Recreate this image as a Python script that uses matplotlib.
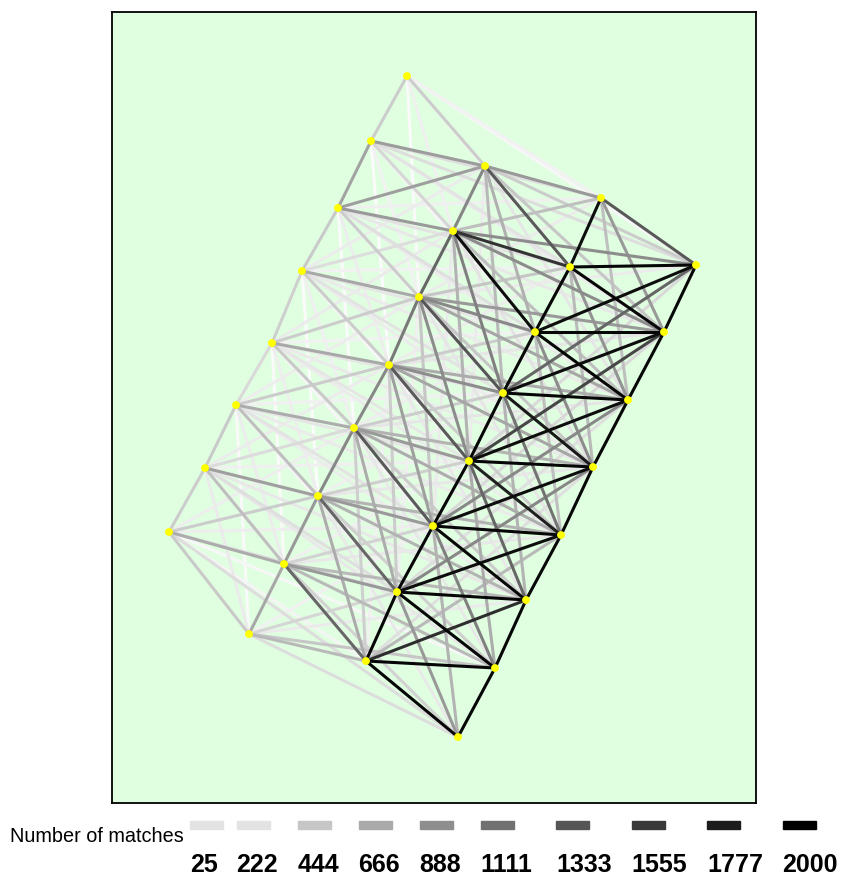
import matplotlib
matplotlib.use("Agg")
import matplotlib.pyplot as plt
from matplotlib.collections import LineCollection
from matplotlib.patches import Rectangle
from matplotlib.transforms import Affine2D

# camera stations of the four flight strips, listed top to bottom
# (map units, x to the right, y downwards)
STRIP_A_X = [407, 371, 338, 302, 272, 236, 205, 169]
STRIP_A_Y = [76, 141, 208, 271, 343, 405, 468, 532]
STRIP_B_X = [485, 453, 419, 389, 354, 318, 284, 249]
STRIP_B_Y = [166, 231, 297, 365, 428, 496, 564, 634]
STRIP_C_X = [601, 570, 535, 503, 469, 433, 397, 366]
STRIP_C_Y = [198, 267, 332, 393, 461, 526, 592, 661]
STRIP_D_X = [696, 664, 628, 593, 561, 526, 495, 458]
STRIP_D_Y = [265, 332, 400, 467, 535, 600, 668, 737]

# number of tie-point matches between image pairs
WITHIN_A = [("a0", "a1", 400), ("a1", "a2", 720), ("a2", "a3", 420), ("a3", "a4", 380),
            ("a4", "a5", 300), ("a5", "a6", 420), ("a6", "a7", 400)]
WITHIN_B = [("b0", "b1", 950), ("b1", "b2", 1200), ("b2", "b3", 1050), ("b3", "b4", 930),
            ("b4", "b5", 930), ("b5", "b6", 800), ("b6", "b7", 680)]
WITHIN_C = [("c0", "c1", 1900), ("c1", "c2", 1950), ("c2", "c3", 1950), ("c3", "c4", 1950),
            ("c4", "c5", 1950), ("c5", "c6", 1950), ("c6", "c7", 1950)]
WITHIN_D = [("d0", "d1", 1950), ("d1", "d2", 1950), ("d2", "d3", 1950), ("d3", "d4", 1950),
            ("d4", "d5", 1950), ("d5", "d6", 1950), ("d6", "d7", 1950)]

A_TO_B = [("a1", "b0", 780), ("a2", "b1", 800), ("a3", "b2", 680), ("a4", "b3", 680),
          ("a5", "b4", 650), ("a6", "b5", 750), ("a7", "b6", 650),
          ("a0", "b0", 400), ("a1", "b1", 320), ("a2", "b2", 400), ("a3", "b3", 400),
          ("a4", "b4", 420), ("a5", "b5", 500), ("a6", "b6", 500), ("a7", "b7", 420),
          ("a2", "b0", 760), ("a3", "b1", 270), ("a4", "b2", 400), ("a5", "b3", 400),
          ("a6", "b4", 280), ("a7", "b5", 400),
          ("a0", "b1", 120), ("a1", "b2", 100), ("a2", "b3", 140), ("a3", "b4", 120),
          ("a4", "b5", 130), ("a5", "b6", 150), ("a6", "b7", 160),
          ("a3", "b0", 150), ("a4", "b1", 160), ("a5", "b2", 140), ("a6", "b3", 150),
          ("a7", "b4", 130),
          ("a0", "b2", 40), ("a1", "b3", 30), ("a2", "b4", 40), ("a3", "b5", 30),
          ("a4", "b6", 40), ("a5", "b7", 50)]

B_TO_C = [("b0", "c0", 800), ("b1", "c1", 1600), ("b2", "c2", 930), ("b3", "c3", 900),
          ("b4", "c4", 800), ("b5", "c5", 800), ("b6", "c6", 800), ("b7", "c7", 550),
          ("b0", "c1", 1300), ("b1", "c2", 1900), ("b2", "c3", 1330), ("b3", "c4", 1300),
          ("b4", "c5", 1300), ("b5", "c6", 1200), ("b6", "c7", 1200),
          ("b0", "c2", 620), ("b1", "c3", 1000), ("b2", "c4", 900), ("b3", "c5", 750),
          ("b4", "c6", 650), ("b5", "c7", 650),
          ("b1", "c0", 500), ("b2", "c1", 450), ("b3", "c2", 400), ("b4", "c3", 400),
          ("b5", "c4", 380), ("b6", "c5", 350), ("b7", "c6", 330),
          ("b0", "c3", 550), ("b1", "c4", 600), ("b2", "c5", 450), ("b3", "c6", 400),
          ("b4", "c7", 380),
          ("b2", "c0", 150), ("b3", "c1", 140), ("b4", "c2", 130), ("b5", "c3", 120),
          ("b6", "c4", 120), ("b7", "c5", 110),
          ("b0", "c4", 150), ("b1", "c5", 160), ("b2", "c6", 120), ("b3", "c7", 110)]

C_TO_D = [("c0", "d0", 1300), ("c1", "d1", 1950), ("c2", "d2", 1950), ("c3", "d3", 1800),
          ("c4", "d4", 1750), ("c5", "d5", 1950), ("c6", "d6", 1950), ("c7", "d7", 1950),
          ("c1", "d0", 1950), ("c2", "d1", 1950), ("c3", "d2", 1950), ("c4", "d3", 1950),
          ("c5", "d4", 1950), ("c6", "d5", 1950), ("c7", "d6", 1950),
          ("c2", "d0", 1900), ("c3", "d1", 1900), ("c4", "d2", 1900), ("c5", "d3", 1900),
          ("c6", "d4", 1900), ("c7", "d5", 1650),
          ("c0", "d1", 800), ("c1", "d2", 850), ("c2", "d3", 900), ("c3", "d4", 1100),
          ("c4", "d5", 1200), ("c5", "d6", 1000), ("c6", "d7", 800),
          ("c3", "d0", 1200), ("c4", "d1", 1450), ("c5", "d2", 930), ("c6", "d3", 930),
          ("c7", "d4", 550),
          ("c0", "d2", 500), ("c1", "d3", 550), ("c2", "d4", 500), ("c3", "d5", 600),
          ("c4", "d6", 650), ("c5", "d7", 600),
          ("c4", "d0", 300), ("c5", "d1", 300), ("c6", "d2", 250), ("c7", "d3", 250)]

A_TO_C = [("a0", "c0", 100), ("a1", "c1", 220), ("a2", "c2", 250), ("a3", "c3", 220),
          ("a4", "c4", 200), ("a5", "c5", 220), ("a6", "c6", 250), ("a7", "c7", 80),
          ("a1", "c0", 250), ("a2", "c1", 220), ("a3", "c2", 200), ("a4", "c3", 200),
          ("a5", "c4", 200), ("a6", "c5", 220), ("a7", "c6", 250),
          ("a0", "c1", 60), ("a1", "c2", 80), ("a2", "c3", 70), ("a3", "c4", 60),
          ("a4", "c5", 70), ("a5", "c6", 80), ("a6", "c7", 90),
          ("a2", "c0", 120), ("a3", "c1", 100), ("a4", "c2", 100), ("a5", "c3", 110),
          ("a6", "c4", 120), ("a7", "c5", 130)]

A_TO_D = [("a0", "d0", 60), ("a1", "d1", 150), ("a2", "d2", 150), ("a3", "d3", 150),
          ("a4", "d4", 150), ("a5", "d5", 150), ("a6", "d6", 180), ("a7", "d7", 270),
          ("a1", "d0", 270), ("a2", "d1", 180), ("a3", "d2", 160), ("a4", "d3", 160),
          ("a5", "d4", 160), ("a6", "d5", 180), ("a7", "d6", 60)]

B_TO_D = [("b0", "d0", 400), ("b1", "d1", 900), ("b2", "d2", 700), ("b3", "d3", 700),
          ("b4", "d4", 650), ("b5", "d5", 600), ("b6", "d6", 550), ("b7", "d7", 270),
          ("b1", "d0", 900), ("b2", "d1", 800), ("b3", "d2", 650), ("b4", "d3", 600),
          ("b5", "d4", 600), ("b6", "d5", 550), ("b7", "d6", 450),
          ("b0", "d1", 450), ("b1", "d2", 500), ("b2", "d3", 450), ("b3", "d4", 400),
          ("b4", "d5", 400), ("b5", "d6", 380), ("b6", "d7", 350),
          ("b2", "d0", 150), ("b3", "d1", 200), ("b4", "d2", 200), ("b5", "d3", 180),
          ("b6", "d4", 180), ("b7", "d5", 160),
          ("b0", "d2", 200), ("b1", "d3", 220), ("b2", "d4", 200), ("b3", "d5", 180),
          ("b4", "d6", 180), ("b5", "d7", 170)]

LEGEND_VALUES = [25, 222, 444, 666, 888, 1111, 1333, 1555, 1777, 2000]
MAX_MATCHES = 2000

plt.rcParams["font.family"] = ["Liberation Sans", "DejaVu Sans"]

W, H = 844, 881
fig = plt.figure(figsize=(W / 100, H / 100), dpi=100)
# axes frame: 112..756 px across, 12..803 px down
ax = fig.add_axes([112 / W, 1 - 803 / H, 644 / W, 791 / H])
ax.set_xlim(112, 756)
ax.set_ylim(803, 12)
ax.set_facecolor("#e0ffe0")
ax.set_xticks([])
ax.set_yticks([])
for sp in ax.spines.values():
    sp.set_linewidth(1.3)
    sp.set_color("black")

pos = {}
for tag, xs, ys in [("a", STRIP_A_X, STRIP_A_Y), ("b", STRIP_B_X, STRIP_B_Y),
                    ("c", STRIP_C_X, STRIP_C_Y), ("d", STRIP_D_X, STRIP_D_Y)]:
    for i, (x, y) in enumerate(zip(xs, ys)):
        pos[f"{tag}{i}"] = (x, y)


def shade(n):
    g = max(0.0, 1.0 - n / MAX_MATCHES)
    return (g, g, g)


edges = WITHIN_A + WITHIN_B + WITHIN_C + WITHIN_D + A_TO_B + B_TO_C + C_TO_D \
    + A_TO_C + A_TO_D + B_TO_D
edges = sorted(edges, key=lambda e: e[2])  # strongest links drawn last
segs = [[pos[u], pos[v]] for u, v, _ in edges]
cols = [shade(n) for _, _, n in edges]
ax.add_collection(LineCollection(segs, colors=cols, linewidths=2.2, zorder=2))

nx = [p[0] for p in pos.values()]
ny = [p[1] for p in pos.values()]
ax.scatter(nx, ny, s=32, c="#ffff00", edgecolors="none", zorder=3)

# legend strip under the map, laid out in pixel units
px = Affine2D().scale(1 / W, -1 / H).translate(0, 1) + fig.transFigure
fig.text(184, 842, "Number of matches", transform=px, ha="right", va="baseline",
         fontsize=14.3)
digit_w, gap = 14.5, 17.5
x = 190
for v in LEGEND_VALUES:
    label = str(v)
    g = min(shade(v)[0], 0.89)  # keep the faintest swatch visible on white
    fig.patches.append(Rectangle((x, 821), 33, 8, transform=px, color=(g, g, g),
                                 figure=fig))
    fig.text(x, 872, label, transform=px, ha="left", va="baseline",
             fontsize=18, fontweight="bold")
    x += digit_w * len(label) + gap

fig.savefig("out.png", dpi=100)
